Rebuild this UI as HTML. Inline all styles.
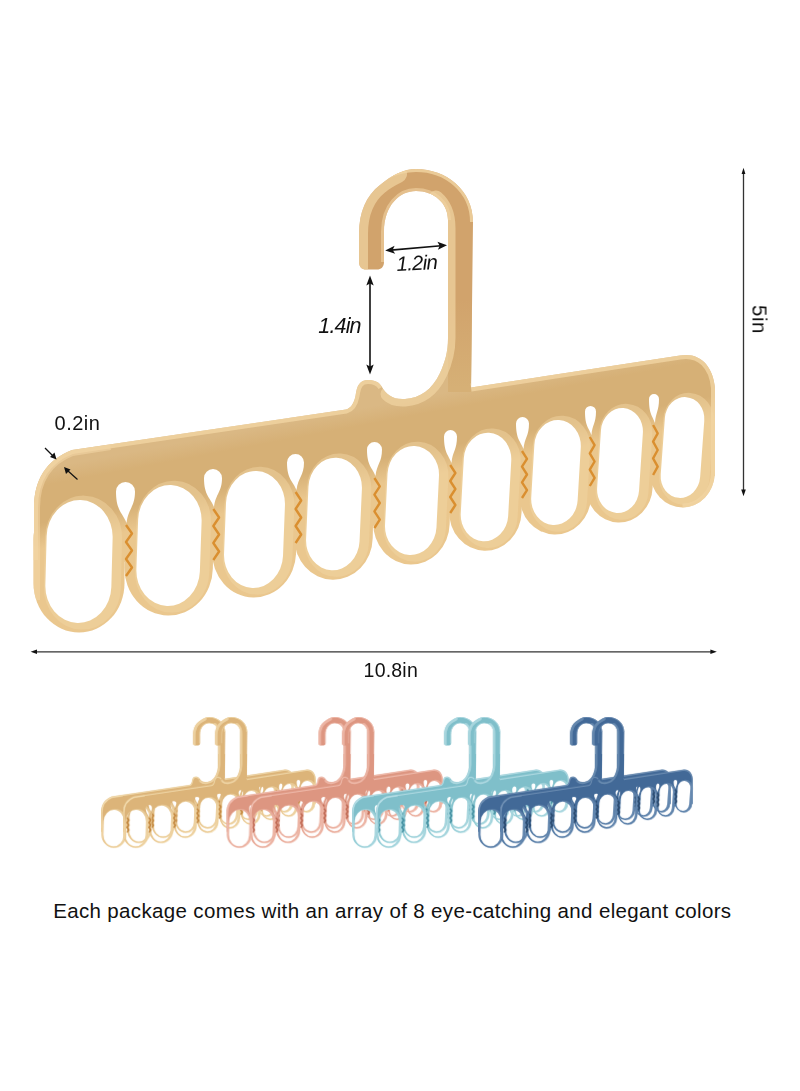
<!DOCTYPE html>
<html><head><meta charset="utf-8"><style>
html,body{margin:0;padding:0;background:#fff;}
body{width:800px;height:1091px;position:relative;overflow:hidden;font-family:"Liberation Sans",sans-serif;}
svg{position:absolute;left:0;top:0;}
.t{position:absolute;white-space:nowrap;color:#111;line-height:1;}
</style></head><body>
<svg width="800" height="1091" viewBox="0 0 800 1091">
<defs>
<linearGradient id="gm" gradientUnits="userSpaceOnUse" x1="110.17" y1="444.4" x2="136.17" y2="581.96"><stop offset="0" stop-color="#DAB884"/><stop offset="0.08" stop-color="#DAB884"/><stop offset="0.2" stop-color="#D6B076"/><stop offset="0.46" stop-color="#D6B076"/><stop offset="0.64" stop-color="#EAC78E"/><stop offset="1" stop-color="#EAC78E"/></linearGradient>
<linearGradient id="gy" gradientUnits="userSpaceOnUse" x1="110.17" y1="444.4" x2="136.17" y2="581.96"><stop offset="0" stop-color="#DCB479"/><stop offset="0.08" stop-color="#DCB479"/><stop offset="0.2" stop-color="#DCB479"/><stop offset="0.46" stop-color="#DCB479"/><stop offset="0.64" stop-color="#E8C690"/><stop offset="1" stop-color="#E8C690"/></linearGradient>
<linearGradient id="gs" gradientUnits="userSpaceOnUse" x1="110.17" y1="444.4" x2="136.17" y2="581.96"><stop offset="0" stop-color="#DD9681"/><stop offset="0.08" stop-color="#DD9681"/><stop offset="0.2" stop-color="#DD9681"/><stop offset="0.46" stop-color="#DD9681"/><stop offset="0.64" stop-color="#E6A694"/><stop offset="1" stop-color="#E6A694"/></linearGradient>
<linearGradient id="gb" gradientUnits="userSpaceOnUse" x1="110.17" y1="444.4" x2="136.17" y2="581.96"><stop offset="0" stop-color="#7FBFCA"/><stop offset="0.08" stop-color="#7FBFCA"/><stop offset="0.2" stop-color="#7FBFCA"/><stop offset="0.46" stop-color="#7FBFCA"/><stop offset="0.64" stop-color="#8FCAD3"/><stop offset="1" stop-color="#8FCAD3"/></linearGradient>
<linearGradient id="gd" gradientUnits="userSpaceOnUse" x1="110.17" y1="444.4" x2="136.17" y2="581.96"><stop offset="0" stop-color="#426997"/><stop offset="0.08" stop-color="#426997"/><stop offset="0.2" stop-color="#426997"/><stop offset="0.46" stop-color="#426997"/><stop offset="0.64" stop-color="#4F76A2"/><stop offset="1" stop-color="#4F76A2"/></linearGradient>
<linearGradient id="hkg" gradientUnits="userSpaceOnUse" x1="0" y1="300" x2="0" y2="388"><stop offset="0" stop-color="#D1A36C"/><stop offset="1" stop-color="#D6B076"/></linearGradient>
<mask id="mhm" maskUnits="userSpaceOnUse" x="0" y="0" width="800" height="700">
<rect x="0" y="0" width="800" height="700" fill="#fff"/>
<g fill="#000">
<rect x="46" y="500" width="66" height="123" rx="33" ry="36.96" transform="rotate(1.5 79 561.5)"/>
<rect x="137.25" y="485" width="63.5" height="121" rx="31.75" ry="35.56" transform="rotate(2.0 169 545.5)"/>
<rect x="225" y="471" width="59" height="117" rx="29.5" ry="33.04" transform="rotate(2.2 254.5 529.5)"/>
<rect x="307.25" y="457.75" width="53.5" height="112.5" rx="26.75" ry="29.96" transform="rotate(2.6 334 514)"/>
<rect x="386.25" y="446" width="51.5" height="109" rx="25.75" ry="28.84" transform="rotate(2.8 412 500.5)"/>
<rect x="462.25" y="432.75" width="47.5" height="108.5" rx="23.75" ry="26.6" transform="rotate(3.2 486 487)"/>
<rect x="532.75" y="420" width="46.5" height="105" rx="23.25" ry="26.04" transform="rotate(3.4 556 472.5)"/>
<rect x="599" y="408" width="42" height="105" rx="21" ry="23.52" transform="rotate(3.8 620 460.5)"/>
<rect x="662.75" y="397" width="39.5" height="101" rx="19.75" ry="22.12" transform="rotate(4.2 682.5 447.5)"/>
<path d="M126.5 523 C122.65 512.75 116 510.7 116 491.5 A9.5 9.5 0 0 1 135 491.5 C135 506.6 128.35 508.65 126.5 523Z"/>
<path d="M214 507 C210.3 497.5 204 495.6 204 478 A9 9 0 0 1 222 478 C222 491.8 215.7 493.7 214 507Z"/>
<path d="M296.5 490 C292.95 481 287 479.2 287 462.5 A8.5 8.5 0 0 1 304 462.5 C304 475.6 298.05 477.4 296.5 490Z"/>
<path d="M375.5 476 C372.25 467.5 367 465.8 367 449.5 A7.5 7.5 0 0 1 382 449.5 C382 462.4 376.75 464.1 375.5 476Z"/>
<path d="M451.5 463 C448.55 454.75 444 453.1 444 436.5 A6.5 6.5 0 0 1 457 436.5 C457 449.8 452.45 451.45 451.5 463Z"/>
<path d="M523.5 449 C520.55 441 516 439.4 516 423.5 A6.5 6.5 0 0 1 529 423.5 C529 436.2 524.45 437.8 523.5 449Z"/>
<path d="M591.5 435 C588.85 427.75 585 426.3 585 411.5 A5.5 5.5 0 0 1 596 411.5 C596 423.4 592.15 424.85 591.5 435Z"/>
<path d="M655 423 C652.5 415.75 649 414.3 649 399 A5 5 0 0 1 659 399 C659 411.4 655.5 412.85 655 423Z"/>
</g>
</mask>
<clipPath id="chm"><path d="M34 575 L34 508 C34 480 46 460 72 450 L346 409.5 C350 408.5 354 404 355.5 396 C357 385 360 380 368 380 C375 380 379 382 382 387 C386 394 393 400 405 399 C420 398 432 390 440 373 C445 362 448 352 448 338 L448 300 L472 300 L471 387.5 L680 355.5 C700 352 713 366 715 388 L715 476 L690 480 Z"/><path d="M359 262 L359 234 C359 212 366 196 380 185 C392 175 404 169 416 169 C446 169 473 190 473 222 L471 392 L448 392 L448 220 C448 203 434 191 416 191 C400 191 384 205 384 232 L384 262 C384 267 381 269.5 377 269.5 L366 269.5 C362 269.5 359 267 359 262 Z"/><rect x="33.5" y="490.5" width="91" height="142" rx="45.5" ry="49.14" transform="rotate(0 79 561.5)"/><rect x="650.25" y="387.5" width="64.5" height="120" rx="32.25" ry="34.83" transform="rotate(0 682.5 447.5)"/></clipPath>
<g id="hm">
<g mask="url(#mhm)">
<path d="M34 575 L34 508 C34 480 46 460 72 450 L346 409.5 C350 408.5 354 404 355.5 396 C357 385 360 380 368 380 C375 380 379 382 382 387 C386 394 393 400 405 399 C420 398 432 390 440 373 C445 362 448 352 448 338 L448 300 L472 300 L471 387.5 L680 355.5 C700 352 713 366 715 388 L715 476 L690 480 Z" style="fill:var(--g)"/>
<g style="fill:var(--g)">
<rect x="33.5" y="490.5" width="91" height="142" rx="45.5" ry="49.14" transform="rotate(0 79 561.5)"/>
<rect x="124.75" y="475.5" width="88.5" height="140" rx="44.25" ry="47.79" transform="rotate(1 169 545.5)"/>
<rect x="212.5" y="461.5" width="84" height="136" rx="42" ry="45.36" transform="rotate(1.1 254.5 529.5)"/>
<rect x="294.75" y="448.25" width="78.5" height="131.5" rx="39.25" ry="42.39" transform="rotate(1.3 334 514)"/>
<rect x="373.75" y="436.5" width="76.5" height="128" rx="38.25" ry="41.31" transform="rotate(1.4 412 500.5)"/>
<rect x="449.75" y="423.25" width="72.5" height="127.5" rx="36.25" ry="39.15" transform="rotate(1.6 486 487)"/>
<rect x="520.25" y="410.5" width="71.5" height="124" rx="35.75" ry="38.61" transform="rotate(1.7 556 472.5)"/>
<rect x="586.5" y="398.5" width="67" height="124" rx="33.5" ry="36.18" transform="rotate(1.9 620 460.5)"/>
<rect x="650.25" y="387.5" width="64.5" height="120" rx="32.25" ry="34.83" transform="rotate(0 682.5 447.5)"/>
</g>
<g fill="none" stroke="var(--hl)" stroke-width="11" opacity="0.5">
<rect x="50" y="501" width="66" height="123" rx="33" ry="36.96" transform="rotate(1.5 79 561.5)"/>
<rect x="141.25" y="486" width="63.5" height="121" rx="31.75" ry="35.56" transform="rotate(2.0 169 545.5)"/>
<rect x="229" y="472" width="59" height="117" rx="29.5" ry="33.04" transform="rotate(2.2 254.5 529.5)"/>
<rect x="311.25" y="458.75" width="53.5" height="112.5" rx="26.75" ry="29.96" transform="rotate(2.6 334 514)"/>
<rect x="390.25" y="447" width="51.5" height="109" rx="25.75" ry="28.84" transform="rotate(2.8 412 500.5)"/>
<rect x="466.25" y="433.75" width="47.5" height="108.5" rx="23.75" ry="26.6" transform="rotate(3.2 486 487)"/>
<rect x="536.75" y="421" width="46.5" height="105" rx="23.25" ry="26.04" transform="rotate(3.4 556 472.5)"/>
<rect x="603" y="409" width="42" height="105" rx="21" ry="23.52" transform="rotate(3.8 620 460.5)"/>
<rect x="666.75" y="398" width="39.5" height="101" rx="19.75" ry="22.12" transform="rotate(4.2 682.5 447.5)"/>
</g>
</g>
<path d="M359 262 L359 234 C359 212 366 196 380 185 C392 175 404 169 416 169 C446 169 473 190 473 222 L471 392 L448 392 L448 220 C448 203 434 191 416 191 C400 191 384 205 384 232 L384 262 C384 267 381 269.5 377 269.5 L366 269.5 C362 269.5 359 267 359 262 Z" style="fill:var(--hk)"/>
<g clip-path="url(#chm)" fill="none" stroke="var(--hl)">
<path d="M34 560 L34 508 C34 480 46 460 72 450 L346 409.5 C350 408.5 354 404 355.5 396 C357 385 360 380 368 380 C375 380 379 382 382 387 M471 387.5 L680 355.5 C700 352 713 366 715 388 L715 472 C715 492 701 507.5 682.5 507.5" stroke-width="8" opacity="0.8"/>
<path d="M34 600 L34 508 C34 480 46 460 72 450 L110 444" stroke-width="12" opacity="0.6"/>
<path d="M359 270 L359 234 C359 212 366 196 380 185 C386 180 392 177 398 174" stroke-width="18" opacity="0.7" stroke-linecap="round"/>
<path d="M366 192 C376 180 395 169 416 169 C446 169 473 190 473 222" stroke-width="6" opacity="0.8"/>
<path d="M384 262 L384 232 C384 205 400 191 416 191 C434 191 448 203 448 220" stroke-width="6" opacity="0.6"/>
<path d="M436 198 C443 204 448 212 448 228 L448 338 C448 352 445 362 440 373 C432 390 420 398 405 399 C398 399.5 392 398 388 394" stroke-width="15" opacity="0.7" stroke-linecap="round"/>
</g>
<g fill="none" stroke="var(--zz)" style="stroke-width:var(--zw)" stroke-linejoin="round">
<polyline points="126,525 132,533.5 126,542 132,550.5 126,559 132,567.5 126,576"/>
<polyline points="213.3,509 219.1,517.5 213.3,526 219.1,534.5 213.3,543 219.1,551.5 213.3,560"/>
<polyline points="295.6,492 301.2,500.5 295.6,509 301.2,517.5 295.6,526 301.2,534.5 295.6,543"/>
<polyline points="374.4,478 379.8,486.33 374.4,494.67 379.8,503 374.4,511.33 379.8,519.67 374.4,528"/>
<polyline points="450.2,465 455.4,473 450.2,481 455.4,489 450.2,497 455.4,505 450.2,513"/>
<polyline points="522,451 527,458.83 522,466.67 527,474.5 522,482.33 527,490.17 522,498"/>
<polyline points="589.8,437 594.6,445.17 589.8,453.33 594.6,461.5 589.8,469.67 594.6,477.83 589.8,486"/>
<polyline points="653.1,425 657.7,433.33 653.1,441.67 657.7,450 653.1,458.33 657.7,466.67 653.1,475"/>
</g>
</g>
<mask id="mhs" maskUnits="userSpaceOnUse" x="0" y="0" width="800" height="700">
<rect x="0" y="0" width="800" height="700" fill="#fff"/>
<g fill="#000">
<rect x="43.5" y="497.5" width="71" height="128" rx="35.5" ry="39.76" transform="rotate(1.5 79 561.5)"/>
<rect x="134.75" y="482.5" width="68.5" height="126" rx="34.25" ry="38.36" transform="rotate(2.0 169 545.5)"/>
<rect x="222.5" y="468.5" width="64" height="122" rx="32" ry="35.84" transform="rotate(2.2 254.5 529.5)"/>
<rect x="304.75" y="455.25" width="58.5" height="117.5" rx="29.25" ry="32.76" transform="rotate(2.6 334 514)"/>
<rect x="383.75" y="443.5" width="56.5" height="114" rx="28.25" ry="31.64" transform="rotate(2.8 412 500.5)"/>
<rect x="459.75" y="430.25" width="52.5" height="113.5" rx="26.25" ry="29.4" transform="rotate(3.2 486 487)"/>
<rect x="530.25" y="417.5" width="51.5" height="110" rx="25.75" ry="28.84" transform="rotate(3.4 556 472.5)"/>
<rect x="596.5" y="405.5" width="47" height="110" rx="23.5" ry="26.32" transform="rotate(3.8 620 460.5)"/>
<rect x="660.25" y="394.5" width="44.5" height="106" rx="22.25" ry="24.92" transform="rotate(4.2 682.5 447.5)"/>
<path d="M126.5 523 C122.28 512.12 114.75 509.95 114.75 490.25 A10.75 10.75 0 0 1 136.25 490.25 C136.25 505.6 128.72 507.77 126.5 523Z"/>
<path d="M214 507 C209.93 496.88 202.75 494.85 202.75 476.75 A10.25 10.25 0 0 1 223.25 476.75 C223.25 490.8 216.07 492.82 214 507Z"/>
<path d="M296.5 490 C292.57 480.38 285.75 478.45 285.75 461.25 A9.75 9.75 0 0 1 305.25 461.25 C305.25 474.6 298.43 476.52 296.5 490Z"/>
<path d="M375.5 476 C371.88 466.88 365.75 465.05 365.75 448.25 A8.75 8.75 0 0 1 383.25 448.25 C383.25 461.4 377.12 463.23 375.5 476Z"/>
<path d="M451.5 463 C448.18 454.12 442.75 452.35 442.75 435.25 A7.75 7.75 0 0 1 458.25 435.25 C458.25 448.8 452.82 450.57 451.5 463Z"/>
<path d="M523.5 449 C520.17 440.38 514.75 438.65 514.75 422.25 A7.75 7.75 0 0 1 530.25 422.25 C530.25 435.2 524.83 436.93 523.5 449Z"/>
<path d="M591.5 435 C588.48 427.12 583.75 425.55 583.75 410.25 A6.75 6.75 0 0 1 597.25 410.25 C597.25 422.4 592.52 423.98 591.5 435Z"/>
<path d="M655 423 C652.12 415.12 647.75 413.55 647.75 397.75 A6.25 6.25 0 0 1 660.25 397.75 C660.25 410.4 655.88 411.98 655 423Z"/>
</g>
</mask>
<clipPath id="chs"><path d="M34 575 L34 508 C34 480 46 460 72 450 L346 409.5 C350 408.5 354 404 355.5 396 C357 385 360 380 368 380 C375 380 379 382 382 387 C386 394 393 400 405 399 C420 398 432 390 440 373 C445 362 448 352 448 338 L448 300 L472 300 L471 387.5 L680 355.5 C700 352 713 366 715 388 L715 476 L690 480 Z"/><path d="M359 262 L359 234 C359 212 366 196 380 185 C392 175 404 169 416 169 C446 169 473 190 473 222 L471 392 L448 392 L448 220 C448 203 434 191 416 191 C400 191 384 205 384 232 L384 262 C384 267 381 269.5 377 269.5 L366 269.5 C362 269.5 359 267 359 262 Z"/><rect x="35.5" y="492" width="87" height="139" rx="43.5" ry="46.98" transform="rotate(0 79 561.5)"/><rect x="652.25" y="389" width="60.5" height="117" rx="30.25" ry="32.67" transform="rotate(0 682.5 447.5)"/></clipPath>
<g id="hs">
<g mask="url(#mhs)">
<path d="M34 575 L34 508 C34 480 46 460 72 450 L346 409.5 C350 408.5 354 404 355.5 396 C357 385 360 380 368 380 C375 380 379 382 382 387 C386 394 393 400 405 399 C420 398 432 390 440 373 C445 362 448 352 448 338 L448 300 L472 300 L471 387.5 L680 355.5 C700 352 713 366 715 388 L715 476 L690 480 Z" style="fill:var(--g)"/>
<g style="fill:var(--g)">
<rect x="35.5" y="492" width="87" height="139" rx="43.5" ry="46.98" transform="rotate(0 79 561.5)"/>
<rect x="126.75" y="477" width="84.5" height="137" rx="42.25" ry="45.63" transform="rotate(1 169 545.5)"/>
<rect x="214.5" y="463" width="80" height="133" rx="40" ry="43.2" transform="rotate(1.1 254.5 529.5)"/>
<rect x="296.75" y="449.75" width="74.5" height="128.5" rx="37.25" ry="40.23" transform="rotate(1.3 334 514)"/>
<rect x="375.75" y="438" width="72.5" height="125" rx="36.25" ry="39.15" transform="rotate(1.4 412 500.5)"/>
<rect x="451.75" y="424.75" width="68.5" height="124.5" rx="34.25" ry="36.99" transform="rotate(1.6 486 487)"/>
<rect x="522.25" y="412" width="67.5" height="121" rx="33.75" ry="36.45" transform="rotate(1.7 556 472.5)"/>
<rect x="588.5" y="400" width="63" height="121" rx="31.5" ry="34.02" transform="rotate(1.9 620 460.5)"/>
<rect x="652.25" y="389" width="60.5" height="117" rx="30.25" ry="32.67" transform="rotate(0 682.5 447.5)"/>
</g>
<g fill="none" stroke="var(--hl)" stroke-width="11" opacity="0.5">
<rect x="47.5" y="498.5" width="71" height="128" rx="35.5" ry="39.76" transform="rotate(1.5 79 561.5)"/>
<rect x="138.75" y="483.5" width="68.5" height="126" rx="34.25" ry="38.36" transform="rotate(2.0 169 545.5)"/>
<rect x="226.5" y="469.5" width="64" height="122" rx="32" ry="35.84" transform="rotate(2.2 254.5 529.5)"/>
<rect x="308.75" y="456.25" width="58.5" height="117.5" rx="29.25" ry="32.76" transform="rotate(2.6 334 514)"/>
<rect x="387.75" y="444.5" width="56.5" height="114" rx="28.25" ry="31.64" transform="rotate(2.8 412 500.5)"/>
<rect x="463.75" y="431.25" width="52.5" height="113.5" rx="26.25" ry="29.4" transform="rotate(3.2 486 487)"/>
<rect x="534.25" y="418.5" width="51.5" height="110" rx="25.75" ry="28.84" transform="rotate(3.4 556 472.5)"/>
<rect x="600.5" y="406.5" width="47" height="110" rx="23.5" ry="26.32" transform="rotate(3.8 620 460.5)"/>
<rect x="664.25" y="395.5" width="44.5" height="106" rx="22.25" ry="24.92" transform="rotate(4.2 682.5 447.5)"/>
</g>
</g>
<path d="M359 262 L359 234 C359 212 366 196 380 185 C392 175 404 169 416 169 C446 169 473 190 473 222 L471 392 L448 392 L448 220 C448 203 434 191 416 191 C400 191 384 205 384 232 L384 262 C384 267 381 269.5 377 269.5 L366 269.5 C362 269.5 359 267 359 262 Z" style="fill:var(--hk)"/>
<g clip-path="url(#chs)" fill="none" stroke="var(--hl)">
<path d="M34 560 L34 508 C34 480 46 460 72 450 L346 409.5 C350 408.5 354 404 355.5 396 C357 385 360 380 368 380 C375 380 379 382 382 387 M471 387.5 L680 355.5 C700 352 713 366 715 388 L715 472 C715 492 701 507.5 682.5 507.5" stroke-width="8" opacity="0.8"/>
<path d="M34 600 L34 508 C34 480 46 460 72 450 L110 444" stroke-width="12" opacity="0.6"/>
<path d="M359 270 L359 234 C359 212 366 196 380 185 C386 180 392 177 398 174" stroke-width="18" opacity="0.7" stroke-linecap="round"/>
<path d="M366 192 C376 180 395 169 416 169 C446 169 473 190 473 222" stroke-width="6" opacity="0.8"/>
<path d="M384 262 L384 232 C384 205 400 191 416 191 C434 191 448 203 448 220" stroke-width="6" opacity="0.6"/>
<path d="M436 198 C443 204 448 212 448 228 L448 338 C448 352 445 362 440 373 C432 390 420 398 405 399 C398 399.5 392 398 388 394" stroke-width="15" opacity="0.7" stroke-linecap="round"/>
</g>
<g fill="none" stroke="var(--zz)" style="stroke-width:var(--zw)" stroke-linejoin="round">
<polyline points="126,525 132,533.5 126,542 132,550.5 126,559 132,567.5 126,576"/>
<polyline points="213.3,509 219.1,517.5 213.3,526 219.1,534.5 213.3,543 219.1,551.5 213.3,560"/>
<polyline points="295.6,492 301.2,500.5 295.6,509 301.2,517.5 295.6,526 301.2,534.5 295.6,543"/>
<polyline points="374.4,478 379.8,486.33 374.4,494.67 379.8,503 374.4,511.33 379.8,519.67 374.4,528"/>
<polyline points="450.2,465 455.4,473 450.2,481 455.4,489 450.2,497 455.4,505 450.2,513"/>
<polyline points="522,451 527,458.83 522,466.67 527,474.5 522,482.33 527,490.17 522,498"/>
<polyline points="589.8,437 594.6,445.17 589.8,453.33 594.6,461.5 589.8,469.67 594.6,477.83 589.8,486"/>
<polyline points="653.1,425 657.7,433.33 653.1,441.67 657.7,450 653.1,458.33 657.7,466.67 653.1,475"/>
</g>
</g>
</defs>
<use href="#hm" style="--face:#D6B076;--hk:url(#hkg);--g:url(#gm);--zz:#DA8F30;--hl:#F1D4A3;--zw:2.4"/>
<use href="#hs" transform="translate(91.38 669.17) scale(0.283)" style="--face:#DCB479;--hk:#DCB479;--g:url(#gy);--zz:#C0833A;--hl:#F3DDB0;--zw:5.5"/>
<use href="#hs" transform="translate(113.38 669.17) scale(0.283)" style="--face:#DCB479;--hk:#DCB479;--g:url(#gy);--zz:#C0833A;--hl:#F3DDB0;--zw:5.5"/>
<use href="#hs" transform="translate(216.88 669.17) scale(0.283)" style="--face:#DD9681;--hk:#DD9681;--g:url(#gs);--zz:#BD6650;--hl:#F2C2B4;--zw:5.5"/>
<use href="#hs" transform="translate(240.38 669.17) scale(0.283)" style="--face:#DD9681;--hk:#DD9681;--g:url(#gs);--zz:#BD6650;--hl:#F2C2B4;--zw:5.5"/>
<use href="#hs" transform="translate(342.38 669.17) scale(0.283)" style="--face:#7FBFCA;--hk:#7FBFCA;--g:url(#gb);--zz:#3F8C9E;--hl:#BAE0E7;--zw:5.5"/>
<use href="#hs" transform="translate(366.38 669.17) scale(0.283)" style="--face:#7FBFCA;--hk:#7FBFCA;--g:url(#gb);--zz:#3F8C9E;--hl:#BAE0E7;--zw:5.5"/>
<use href="#hs" transform="translate(468.38 669.17) scale(0.283)" style="--face:#426997;--hk:#426997;--g:url(#gd);--zz:#27466A;--hl:#7595B8;--zw:5.5"/>
<use href="#hs" transform="translate(490.38 669.17) scale(0.283)" style="--face:#426997;--hk:#426997;--g:url(#gd);--zz:#27466A;--hl:#7595B8;--zw:5.5"/>
<g stroke="#333" stroke-width="1.3" fill="none">
<line x1="36" y1="651.8" x2="711" y2="651.8"/>
<line x1="743.5" y1="173" x2="743.5" y2="490"/>
</g>
<g stroke="#111" stroke-width="1.6" fill="none">
<line x1="370" y1="282" x2="370" y2="368"/>
<line x1="391" y1="250.1" x2="441" y2="245.8"/>
</g>
<g fill="#111">
<path d="M30.6 651.8 L37 649.6 L37 654 Z"/>
<path d="M716.8 651.8 L710.4 649.6 L710.4 654 Z"/>
<path d="M743.5 167.8 L741.6 174 L745.4 174 Z"/>
<path d="M743.5 496.2 L741.2 489.5 L745.8 489.5 Z"/>
<path d="M370 275.5 L366.3 285.5 L370 283.5 L373.7 285.5 Z"/>
<path d="M370 374.5 L366.3 364.5 L370 366.5 L373.7 364.5 Z"/>
<path d="M385.2 250.6 L394.6 245.8 L392.6 250 L395.2 253.8 Z"/>
<path d="M447 245.3 L437.4 241.8 L439.7 245.8 L437.9 249.7 Z"/>
</g>
<g stroke="#111" stroke-width="1.2">
<line x1="45" y1="448" x2="53" y2="456"/>
<line x1="77.5" y1="479.5" x2="67.5" y2="470.5"/>
</g>
<g fill="#111">
<path d="M56.5 459.5 L50 457 L54.5 452.5 Z"/>
<path d="M64 467 L70.5 469.5 L66 474 Z"/>
</g>
</svg>
<div class="t" style="left:54.6px;top:412.82px;font-size:20px;letter-spacing:0.45px;">0.2in</div>
<div class="t" style="left:318.3px;top:315.8px;font-size:21.5px;font-style:italic;letter-spacing:-0.85px;">1.4in</div>
<div class="t" style="left:397px;top:253.65px;font-size:20.5px;font-style:italic;letter-spacing:-0.8px;transform-origin:0 100%;transform:rotate(-3deg);">1.2in</div>
<div class="t" style="left:363.6px;top:660.99px;font-size:19.5px;letter-spacing:0.2px;">10.8in</div>
<div class="t" style="left:752px;top:305px;font-size:20.5px;letter-spacing:0.5px;transform-origin:0 0;transform:translate(17.5px,0) rotate(90deg);">5in</div>
<div class="t" style="left:53.2px;top:901.45px;font-size:20.5px;letter-spacing:0.35px;">Each package comes with an array of 8 eye-catching and elegant colors</div>
</body></html>
